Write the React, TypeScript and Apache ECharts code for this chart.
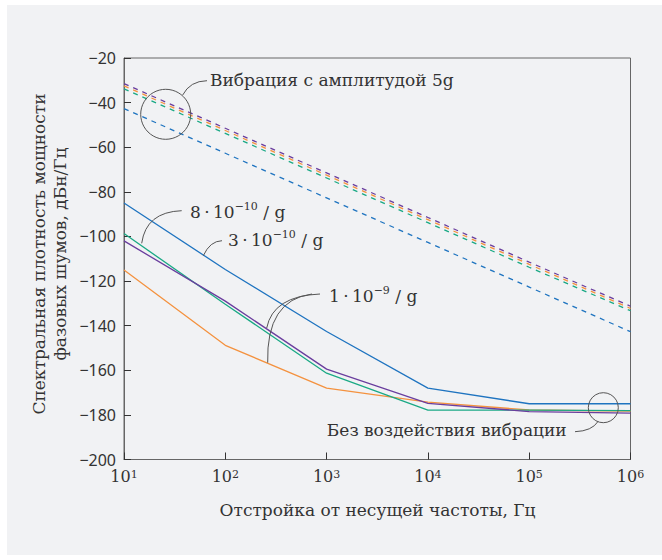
import React, { useEffect, useRef } from "react";
import * as echarts from "echarts";

// ---- data ----
const freqs = [10, 100, 1000, 10000, 100000, 1000000];
const yTicks = { min: -200, max: -20, step: 20 };

// solid: without vibration
const blueSolid = [-85, -114.8, -142.6, -168, -175, -175];
const purpleSolid = [-102, -129, -159.5, -174.8, -178.5, -179.2];
const greenSolid = [-98.7, -130.4, -161.3, -177.9, -177.9, -178.1];
const orangeSolid = [-115, -148.8, -168, -174.3, -177.8, -178.3];

// dashed: vibration 5g amplitude
const purpleDashed = [-31.5, -51.5, -71.5, -91.5, -111.5, -131.3];
const orangeDashed = [-32.5, -52.5, -72.5, -92.5, -112.5, -132.3];
const greenDashed = [-33.8, -53.8, -73.8, -93.8, -113.8, -133.3];
const blueDashed = [-42.7, -62.7, -82.7, -102.7, -122.7, -142.7];

const xTitle = "Отстройка от несущей частоты, Гц";
const yTitle = "Спектральная плотность мощности\nфазовых шумов, дБн/Гц";
const labelVibration = "Вибрация с амплитудой 5g";
const labelNoVibration = "Без воздействия вибрации";
const label8 = "8\u2009·\u200910{sup|−10} / g";
const label3 = "3\u2009·\u200910{sup|−10} / g";
const label1 = "1\u2009·\u200910{sup|−9} / g";

const COLORS = {
  blue: "#1f74c0",
  purple: "#6a3e9e",
  green: "#1aa985",
  orange: "#f4923f",
};

const SERIF = "'DejaVu Serif', serif";
const SANS = "'Noto Sans', sans-serif";
const TEXT = "#333333";
const AXIS = "#666666";

const pairs = (ys: number[]) => freqs.map((f, i) => [f, ys[i]]);

export default function App() {
  const ref = useRef<HTMLDivElement>(null);
  useEffect(() => {
    if (!ref.current) return;
    const chart = echarts.init(ref.current, null, { renderer: "svg" });
    const solid = (name: string, color: string, ys: number[]) => ({
      name,
      type: "line",
      data: pairs(ys),
      symbol: "none",
      lineStyle: { color, width: 1.3 },
      z: 3,
    });
    const dashed = (name: string, color: string, ys: number[]) => ({
      name,
      type: "line",
      data: pairs(ys),
      symbol: "none",
      lineStyle: { color, width: 1.3, type: [5, 5] },
      z: 3,
    });
    const rich = {
      sup: { fontSize: 11, fontFamily: SERIF, fill: TEXT, verticalAlign: "top", lineHeight: 12 },
    };
    const txt = (x: number, y: number, text: string, align = "left", size = 17) => ({
      type: "text",
      x,
      y,
      z: 10,
      style: {
        text,
        fontFamily: SERIF,
        fontSize: size,
        fill: TEXT,
        align,
        verticalAlign: "middle",
        lineHeight: 22,
        rich: {
          sup: { fontSize: 11, fontFamily: SERIF, fill: TEXT, verticalAlign: "top", lineHeight: 22 },
        },
      },
    });
    const leader = (x1: number, y1: number, cx: number, cy: number, x2: number, y2: number) => ({
      type: "bezierCurve",
      z: 10,
      shape: { x1, y1, cpx1: cx, cpy1: cy, x2, y2 },
      style: { stroke: "#555", lineWidth: 1, fill: null },
    });
    const circ = (cx: number, cy: number, r: number) => ({
      type: "circle",
      z: 10,
      shape: { cx, cy, r },
      style: { stroke: "#555", lineWidth: 1, fill: null },
    });

    chart.setOption({
      animation: false,
      backgroundColor: "#ffffff",
      grid: {
        left: 124,
        right: 31.5,
        top: 58,
        bottom: 100.5,
        show: true,
        borderColor: AXIS,
        borderWidth: 1,
        backgroundColor: "transparent",
      },
      xAxis: {
        type: "log",
        logBase: 10,
        min: freqs[0],
        max: freqs[freqs.length - 1],
        axisLine: { show: true, lineStyle: { color: AXIS, width: 1 } },
        axisTick: { show: true, inside: true, length: 7, lineStyle: { color: "#333" } },
        splitLine: { show: false },
        minorTick: { show: false },
        axisLabel: {
          margin: 9,
          fontFamily: SERIF,
          fontSize: 16,
          color: TEXT,
          formatter: (v: number) => "10{sup|" + Math.round(Math.log10(v)) + "}",
          rich,
        },
      },
      yAxis: {
        type: "value",
        min: yTicks.min,
        max: yTicks.max,
        interval: yTicks.step,
        axisLine: { show: true, lineStyle: { color: AXIS, width: 1 } },
        axisTick: { show: true, inside: true, length: 7, lineStyle: { color: "#333" } },
        splitLine: { show: false },
        axisLabel: {
          margin: 8,
          fontFamily: SANS,
          fontSize: 16,
          color: TEXT,
          formatter: (v: number) => (v < 0 ? "\u2212" : "") + Math.abs(v),
        },
      },
      series: [
        dashed("Фиолетовая, вибрация", COLORS.purple, purpleDashed),
        dashed("Оранжевая, вибрация", COLORS.orange, orangeDashed),
        dashed("Зелёная, вибрация", COLORS.green, greenDashed),
        dashed("Синяя, вибрация", COLORS.blue, blueDashed),
        solid("Оранжевая", COLORS.orange, orangeSolid),
        solid("Зелёная", COLORS.green, greenSolid),
        solid("Фиолетовая", COLORS.purple, purpleSolid),
        solid("Синяя", COLORS.blue, blueSolid),
      ],
      graphic: [
        {
          type: "rect",
          z: -100,
          silent: true,
          shape: { x: 7, y: 5, width: 655, height: 550 },
          style: { fill: "#f1f2f4" },
        },
        {
          type: "text",
          x: 49,
          y: 254,
          rotation: Math.PI / 2,
          z: 10,
          style: {
            text: yTitle,
            fontFamily: SERIF,
            fontSize: 17,
            fill: TEXT,
            align: "center",
            verticalAlign: "middle",
            lineHeight: 21,
          },
        },
        {
          type: "text",
          x: 377.5,
          y: 510,
          z: 10,
          style: {
            text: xTitle,
            fontFamily: SERIF,
            fontSize: 17,
            fill: TEXT,
            align: "center",
            verticalAlign: "middle",
          },
        },
        circ(165.7, 114.3, 25),
        leader(182.7, 95, 190, 81, 207, 80.7),
        txt(210, 80, labelVibration),
        leader(141.7, 243.3, 146, 212, 181.7, 210.7),
        txt(190, 211.7, label8),
        leader(203.3, 255.7, 210, 241, 222, 240.7),
        txt(228, 240, label3),
        leader(320, 294, 273, 296, 266.7, 328),
        leader(312, 294, 266, 300, 267.7, 362.7),
        txt(329, 296, label1),
        circ(603.3, 407.7, 15),
        leader(575, 431.7, 592, 431, 598, 421.5),
        txt(566.7, 430, labelNoVibration, "right"),
      ],
    });
    return () => chart.dispose();
  }, []);
  return (
    <div
      ref={ref}
      style={{ position: "fixed", left: 0, top: 0, width: 662, height: 560 }}
    />
  );
}
